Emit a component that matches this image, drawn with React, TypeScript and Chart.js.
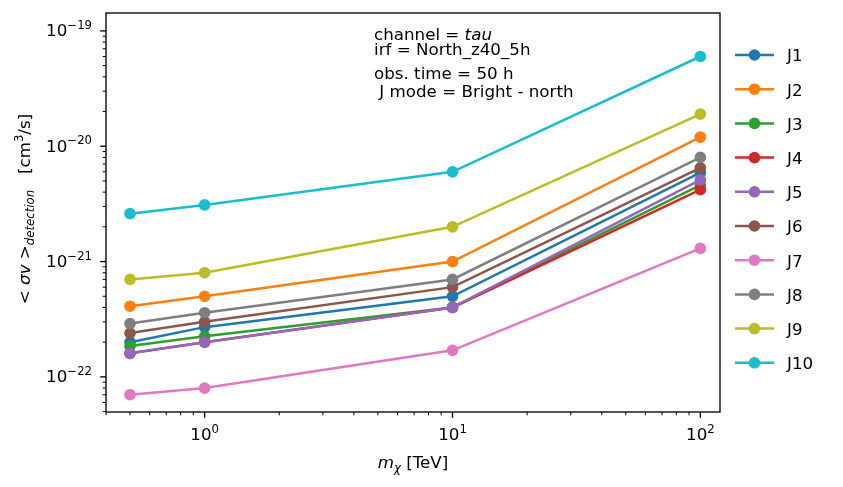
import React, { useEffect, useRef } from 'react';
import { Chart, registerables } from 'chart.js';

Chart.register(...registerables);

// ---------------- data ----------------
const masses = [0.5, 1, 10, 100]; // m_chi [TeV]
const seriesNames = ['J1', 'J2', 'J3', 'J4', 'J5', 'J6', 'J7', 'J8', 'J9', 'J10'];
const J1 = [2.0e-22, 2.7e-22, 5.0e-22, 5.9e-21];
const J2 = [4.1e-22, 5.0e-22, 1.0e-21, 1.2e-20];
const J3 = [1.85e-22, 2.25e-22, 4.0e-22, 4.6e-21];
const J4 = [1.6e-22, 2.0e-22, 4.0e-22, 4.2e-21];
const J5 = [1.6e-22, 2.0e-22, 4.0e-22, 5.1e-21];
const J6 = [2.4e-22, 3.0e-22, 6.0e-22, 6.5e-21];
const J7 = [7.0e-23, 8.0e-23, 1.7e-22, 1.3e-21];
const J8 = [2.9e-22, 3.6e-22, 7.0e-22, 8.0e-21];
const J9 = [7.0e-22, 8.0e-22, 2.0e-21, 1.9e-20];
const J10 = [2.6e-21, 3.1e-21, 6.0e-21, 6.0e-20];
const seriesValues = [J1, J2, J3, J4, J5, J6, J7, J8, J9, J10];
const seriesColors = [
  '#1f77b4', '#ff7f0e', '#2ca02c', '#d62728', '#9467bd',
  '#8c564b', '#e377c2', '#7f7f7f', '#bcbd22', '#17becf',
];

const xMajorTicks = [1, 10, 100];
const xTickExponents = ['0', '1', '2'];
const yMajorTicks = [1e-22, 1e-21, 1e-20, 1e-19];
const yTickExponents = ['\u221222', '\u221221', '\u221220', '\u221219'];

const X_MIN = 0.4;
const X_MAX = 120;
const Y_MIN = 4.96e-23;
const Y_MAX = 1.43e-19;

const annotationLines = [
  [{ t: 'channel = ', it: false }, { t: 'tau', it: true }],
  [{ t: 'irf = North_z40_5h', it: false }],
  [{ t: 'obs. time = 50 h', it: false }],
  [{ t: ' J mode = Bright - north', it: false }],
];

// ---------------- drawing helpers ----------------
const FAM = '"DejaVu Sans", sans-serif';
const FS = 16.7;
const FS_SMALL = 11.7;
const font = (size: number, italic = false) => `${italic ? 'italic ' : ''}${size}px ${FAM}`;

type Run = { text: string; size: number; italic?: boolean; dy?: number };

function runsWidth(ctx: CanvasRenderingContext2D, runs: Run[]) {
  let w = 0;
  for (const r of runs) {
    ctx.font = font(r.size, r.italic);
    w += ctx.measureText(r.text).width;
  }
  return w;
}

function drawRuns(ctx: CanvasRenderingContext2D, runs: Run[], x: number, y: number, align: 'left' | 'center' | 'right') {
  const w = runsWidth(ctx, runs);
  let cx = align === 'left' ? x : align === 'center' ? x - w / 2 : x - w;
  ctx.textAlign = 'left';
  ctx.textBaseline = 'alphabetic';
  for (const r of runs) {
    ctx.font = font(r.size, r.italic);
    ctx.fillText(r.text, cx, y + (r.dy || 0));
    cx += ctx.measureText(r.text).width;
  }
}

function minorTicks(min: number, max: number, majors: number[]) {
  const out: number[] = [];
  const d0 = Math.floor(Math.log10(min));
  const d1 = Math.ceil(Math.log10(max));
  for (let d = d0; d <= d1; d++) {
    for (let k = 2; k <= 9; k++) {
      const v = k * Math.pow(10, d);
      if (v >= min * 0.999 && v <= max * 1.001 && !majors.includes(v)) out.push(v);
    }
  }
  return out;
}

const decorPlugin = {
  id: 'mplDecor',
  afterDatasetsDraw(chart: any) {
    const ctx: CanvasRenderingContext2D = chart.ctx;
    const { left, right, top, bottom } = chart.chartArea;
    const xs = chart.scales.x;
    const ys = chart.scales.y;
    ctx.save();
    ctx.fillStyle = '#000';
    ctx.strokeStyle = '#000';

    // ticks
    const tick = (x1: number, y1: number, x2: number, y2: number, w: number) => {
      ctx.lineWidth = w;
      ctx.beginPath();
      ctx.moveTo(x1, y1);
      ctx.lineTo(x2, y2);
      ctx.stroke();
    };
    for (const v of minorTicks(X_MIN, X_MAX, xMajorTicks)) {
      const px = xs.getPixelForValue(v);
      tick(px, bottom, px, bottom + 3.3, 1);
    }
    for (const v of xMajorTicks) {
      const px = xs.getPixelForValue(v);
      tick(px, bottom, px, bottom + 5.8, 1.33);
    }
    for (const v of minorTicks(Y_MIN, Y_MAX, yMajorTicks)) {
      const py = ys.getPixelForValue(v);
      tick(left, py, left - 3.3, py, 1);
    }
    for (const v of yMajorTicks) {
      const py = ys.getPixelForValue(v);
      tick(left, py, left - 5.8, py, 1.33);
    }

    // frame
    ctx.lineWidth = 1.33;
    ctx.strokeRect(left, top, right - left, bottom - top);

    // tick labels
    xMajorTicks.forEach((v, i) => {
      const px = xs.getPixelForValue(v);
      drawRuns(ctx, [
        { text: '10', size: FS },
        { text: xTickExponents[i], size: FS_SMALL, dy: -7.5 },
      ], px, bottom + 28, 'center');
    });
    yMajorTicks.forEach((v, i) => {
      const py = ys.getPixelForValue(v);
      drawRuns(ctx, [
        { text: '10', size: FS },
        { text: yTickExponents[i], size: FS_SMALL, dy: -7.5 },
      ], left - 14, py + 5.5, 'right');
    });

    // x title
    drawRuns(ctx, [
      { text: 'm', size: FS, italic: true },
      { text: '\u03c7', size: FS_SMALL, italic: true, dy: 3.5 },
      { text: ' [TeV]', size: FS },
    ], (left + right) / 2, 468, 'center');

    // y title (rotated)
    ctx.save();
    ctx.translate(30, 209);
    ctx.rotate(-Math.PI / 2);
    drawRuns(ctx, [
      { text: '< ', size: FS },
      { text: '\u03c3v', size: FS, italic: true },
      { text: ' >', size: FS },
      { text: 'detection', size: FS_SMALL, italic: true, dy: 3.5 },
      { text: '   [cm', size: FS },
      { text: '3', size: FS_SMALL, dy: -7 },
      { text: '/s]', size: FS },
    ], 0, 0, 'center');
    ctx.restore();

    // annotation text
    const baselines = [40, 55, 79, 97];
    annotationLines.forEach((line, i) => {
      drawRuns(ctx, line.map((p) => ({ text: p.t, size: FS, italic: p.it })), 374, baselines[i], 'left');
    });

    // legend
    chart.data.datasets.forEach((ds: any, i: number) => {
      const ly = 55 + i * 34.2;
      ctx.strokeStyle = ds.borderColor;
      ctx.lineWidth = 2.5;
      ctx.beginPath();
      ctx.moveTo(735, ly);
      ctx.lineTo(774, ly);
      ctx.stroke();
      ctx.fillStyle = ds.borderColor;
      ctx.beginPath();
      ctx.arc(754.5, ly, 5.8, 0, Math.PI * 2);
      ctx.fill();
      ctx.fillStyle = '#000';
      ctx.font = font(FS);
      ctx.textAlign = 'left';
      ctx.textBaseline = 'middle';
      ctx.fillText(ds.label, 787, ly + 2);
    });

    ctx.restore();
  },
};

export default function App() {
  const canvasRef = useRef<HTMLCanvasElement | null>(null);

  useEffect(() => {
    if (!canvasRef.current) return;
    const datasets = seriesNames.map((name, i) => ({
      label: name,
      data: masses.map((m, j) => ({ x: m, y: seriesValues[i][j] })),
      borderColor: seriesColors[i],
      backgroundColor: seriesColors[i],
      pointBackgroundColor: seriesColors[i],
      pointBorderColor: seriesColors[i],
      borderWidth: 2.5,
      pointRadius: 5,
      pointBorderWidth: 1.67,
      pointHoverRadius: 5,
      tension: 0,
      fill: false,
      order: seriesNames.length - i,
    }));
    const chart = new Chart(canvasRef.current, {
      type: 'line',
      data: { datasets },
      options: {
        responsive: false,
        animation: false,
        devicePixelRatio: 1,
        layout: { padding: { left: 106, top: 13, right: 123, bottom: 75 } },
        plugins: { legend: { display: false }, tooltip: { enabled: false } },
        events: [],
        scales: {
          x: { type: 'logarithmic', min: X_MIN, max: X_MAX, display: false },
          y: { type: 'logarithmic', min: Y_MIN, max: Y_MAX, display: false },
        },
      },
      plugins: [decorPlugin],
    } as any);
    return () => chart.destroy();
  }, []);

  return (
    <div style={{ position: 'fixed', left: 0, top: 0, width: 843, height: 487, background: '#fff' }}>
      <canvas ref={canvasRef} width={843} height={487} style={{ width: 843, height: 487, display: 'block' }} />
    </div>
  );
}
